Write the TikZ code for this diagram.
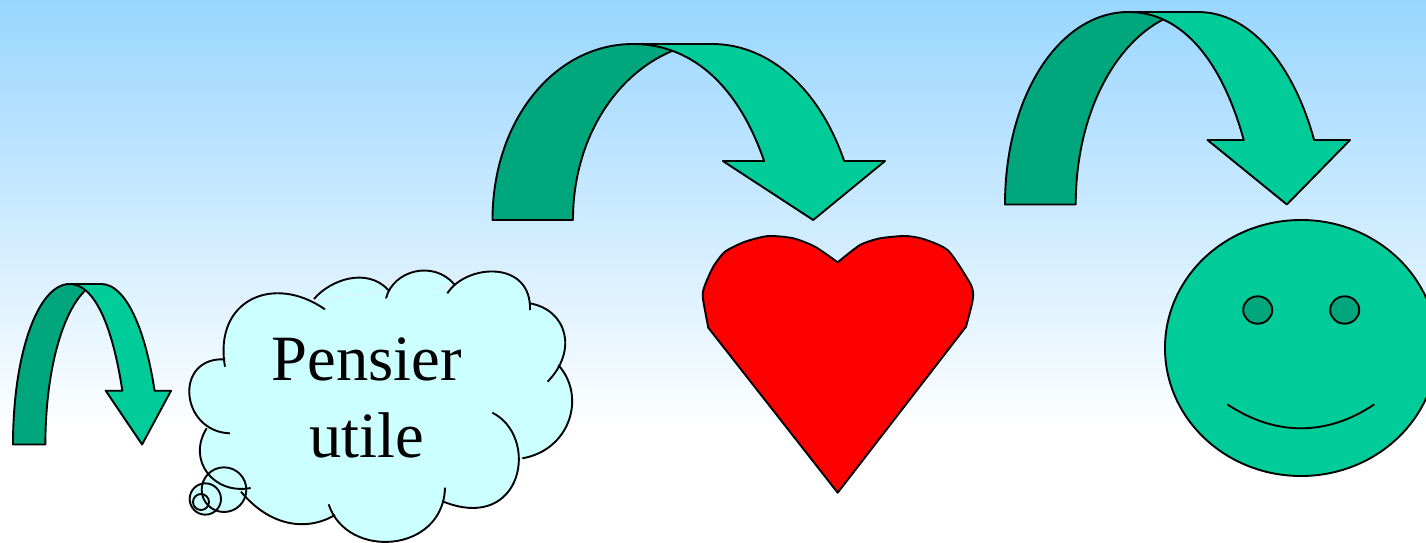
\documentclass[tikz,border=0pt]{standalone}
\usepackage{fontspec}
\setmainfont{Liberation Serif}
\usepackage{tikz}
\usetikzlibrary{shapes.geometric}
\definecolor{arrowlight}{RGB}{0,204,153}
\definecolor{arrowdark}{RGB}{0,166,124}
\definecolor{skyblue}{RGB}{153,214,255}
\definecolor{cloudblue}{RGB}{204,255,255}
\tikzstyle{outline} = [draw=black, line width=0.95pt, line join=round]
\tikzstyle{darkpart} = [outline, fill=arrowdark]
\tikzstyle{lightpart} = [outline, fill=arrowlight]
\tikzstyle{cloud} = [outline, fill=cloudblue]
\tikzstyle{heart} = [outline, fill=red]
\newcommand{\bentarrow}[4]{
  \begin{scope}[shift={(#1,#2)}, xscale=#3, yscale=#4]
    \draw [darkpart] (0,100) .. controls (0,43.2) and (15.9,0) .. (35.8,0) -- (45.7,0) -- (45.7,4)
      .. controls (31.2,17.6) and (20.5,54.5) .. (20.5,100) -- cycle;
    \draw [lightpart] (35.8,0) -- (55.9,0) .. controls (70.7,0) and (83.4,26.1) .. (89.6,66.5)
      -- (100,66.5) -- (81.7,100) -- (58.7,66.5) -- (69.2,66.5)
      .. controls (63,26.1) and (51.6,0) .. (35.8,0) -- cycle;
  \end{scope}
}

\begin{document}
\begin{tikzpicture}[x=0.5pt, y=-0.5pt]

\clip (0,0) rectangle (1426,542);

% Background
\fill [white] (0,0) rectangle (1426,542);
\fill [top color=skyblue, bottom color=white] (0,0) rectangle (1426,430);

% Arrows
\bentarrow{13}{284}{1.58}{1.605}
\bentarrow{492.5}{44}{3.925}{1.76}
\bentarrow{1005}{12}{3.45}{1.925}

% Cloud
\begin{scope}[shift={(170,260)}, scale=1/3]
  \fill [cloudblue] (160,310) -- (450,120) -- (650,95) -- (840,85) -- (1078,140) -- (1170,320)
    -- (1060,595) -- (822,730) -- (490,770) -- (215,705) -- (105,510) -- cycle;
  \fill [cloudblue] (162,689) circle [radius=67] (106,717) circle [radius=47] (93,726) circle [radius=24];
  \draw [cloud] (165,320) .. controls (130,120) and (310,40) .. (465,148)
    (432,117) .. controls (480,60) and (590,20) .. (655,90)
    (648,115) .. controls (670,30) and (790,0) .. (852,72)
    (832,100) .. controls (890,10) and (1085,0) .. (1080,150)
    (1080,130) .. controls (1190,150) and (1225,270) .. (1133,365)
    (1165,315) .. controls (1250,410) and (1200,570) .. (1057,595)
    (967,458) .. controls (1110,530) and (1060,820) .. (820,725)
    (825,683) .. controls (820,880) and (530,900) .. (476,733)
    (495,765) .. controls (410,815) and (300,800) .. (213,695)
    (242,684) .. controls (130,705) and (50,600) .. (110,505)
    (180,520) .. controls (30,515) and (10,290) .. (165,298);
  \draw [outline] (162,689) circle [radius=67];
  \draw [outline] (106,717) circle [radius=47];
  \draw [outline] (93,726) circle [radius=24];
\end{scope}
\node (pensier) [align=center, font=\fontsize{32.3}{38.7}\selectfont] at (367,398) {Pensier\\utile};

% Heart
\draw [heart] (837.7,492.7) -- (966,326.7)
  -- plot [smooth, tension=0.4] coordinates {(966,326.7) (972.7,300) (971,285) (948.3,250.7) (923.3,239) (905,236) (880,238.3) (860,245) (837.7,262.3)}
  -- plot [smooth, tension=0.4] coordinates {(837.7,262.3) (815,246.7) (793.3,238.3) (768.3,236) (745,241.7) (725,251.7) (713.3,266.7) (705,285) (702.7,296.7) (708.3,327.7)}
  -- cycle;

% Face
\draw [lightpart] (1301,348) ellipse [x radius=136, y radius=128];
\draw [darkpart] (1257.7,310) ellipse [x radius=14.5, y radius=13.7];
\draw [darkpart] (1344.7,310) ellipse [x radius=14.5, y radius=13.7];
\draw [outline] (1227.3,404.3) .. controls (1275,436.3) and (1327,436.3) .. (1374.3,404.3);

\end{tikzpicture}
\end{document}
